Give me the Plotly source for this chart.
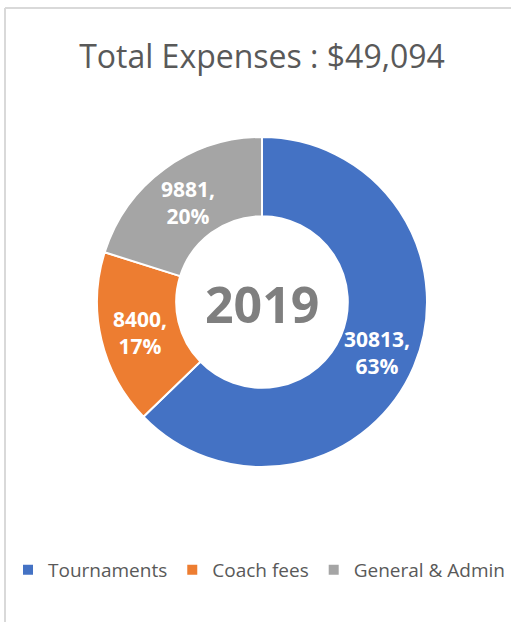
import math
import plotly.graph_objects as go

W, H = 511, 622

categories = ["Tournaments", "Coach fees", "General & Admin"]
values = [30813, 8400, 9881]
colors = ["#4472C4", "#ED7D31", "#A5A5A5"]
title_text = "Total Expenses : $49,094"
center_text = "2019"

def px_x(x):
    return x / W

def px_y(y):
    return 1 - y / H

cx, cy, r = 262, 302, 165
hole = 0.52

fig = go.Figure()
fig.add_trace(go.Pie(
    labels=categories,
    values=values,
    hole=hole,
    sort=False,
    direction="clockwise",
    rotation=0,
    marker=dict(colors=colors, line=dict(color="white", width=2)),
    textinfo="none",
    domain=dict(x=[px_x(cx - r), px_x(cx + r)], y=[px_y(cy + r), px_y(cy - r)]),
    hoverinfo="label+value+percent",
))

# data labels at the middle of the ring, along each slice's bisector
total = sum(values)
r_mid = r * (1 + hole) / 2
cum = 0
for v in values:
    mid = (cum + v / 2) / total * 2 * math.pi
    cum += v
    lx = cx + r_mid * math.sin(mid)
    ly = cy - r_mid * math.cos(mid)
    fig.add_annotation(
        text=f"{v},<br>{round(100 * v / total)}%",
        x=px_x(lx), y=px_y(ly + 2), xref="paper", yref="paper",
        showarrow=False, xanchor="center", yanchor="middle", align="center",
        font=dict(family="Open Sans", size=21, color="white", weight="bold"),
    )

fig.add_annotation(
    text=center_text, x=px_x(cx), y=px_y(cy + 2), xref="paper", yref="paper",
    showarrow=False, xanchor="center", yanchor="middle",
    font=dict(family="Open Sans", size=50, color="#7F7F7F", weight="bold"),
)

fig.update_layout(
    width=W, height=H,
    margin=dict(l=0, r=0, t=0, b=0),
    paper_bgcolor="white", plot_bgcolor="white",
    title=dict(text=title_text, x=px_x(262), xanchor="center",
               y=px_y(57), yanchor="middle", yref="container",
               font=dict(family="Open Sans", size=32, color="#595959")),
    legend=dict(orientation="h", x=px_x(267), xanchor="center",
                y=px_y(570), yanchor="middle",
                font=dict(family="Open Sans", size=19, color="#595959"),
                itemwidth=30, tracegroupgap=0),
    showlegend=True,
    shapes=[
        dict(type="line", xref="paper", yref="paper", x0=px_x(5), x1=1.0,
             y0=px_y(8), y1=px_y(8), line=dict(color="#D9D9D9", width=2)),
        dict(type="line", xref="paper", yref="paper", x0=px_x(5), x1=px_x(5),
             y0=px_y(8), y1=0.0, line=dict(color="#D9D9D9", width=2)),
    ],
)

fig.write_html("out.html", config={"displayModeBar": False},
               post_script="document.body.style.margin='0';")
